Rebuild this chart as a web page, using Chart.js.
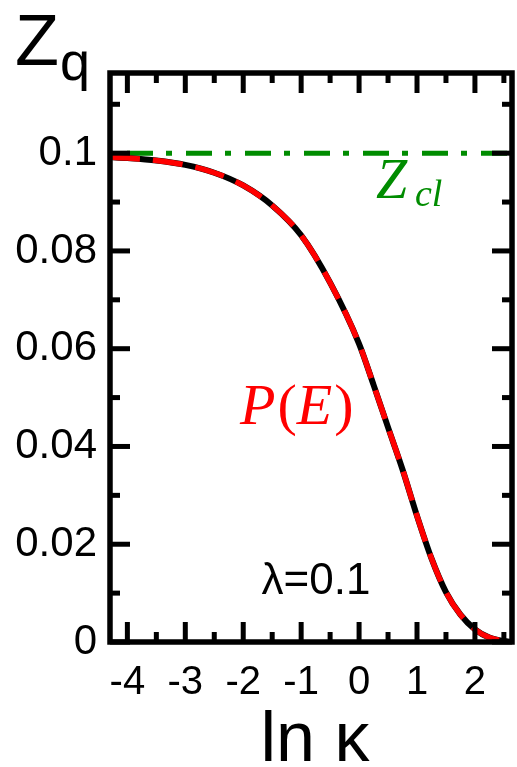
<!DOCTYPE html>
<html>
<head>
<meta charset="utf-8">
<script src="https://cdn.jsdelivr.net/npm/chart.js@4.4.1/dist/chart.umd.min.js"></script>
<style>
  body { margin: 0; background: #fff; }
  #wrap { width: 517px; height: 767px; position: relative; }
</style>
</head>
<body>
<div id="wrap"><canvas id="zqChart"></canvas></div>
<script>
// curve: Z_q against ln kappa (lambda = 0.1)
const lnKappa = [-4.3, -4, -3.5, -3, -2.5, -2, -1.5, -1, -0.5, 0, 0.25, 0.5, 0.75, 1, 1.25, 1.5, 1.75, 2, 2.25, 2.5, 2.64];
const zq      = [0.0992, 0.0990, 0.0985, 0.0976, 0.0960, 0.0934, 0.0893, 0.0832, 0.0735, 0.0610, 0.0526, 0.0439, 0.0353, 0.0258, 0.0171, 0.0102, 0.0056, 0.0026, 0.0009, 0.0002, 0.0];

// classical limit Z_cl
const zclX = [-4.3, 2.64];
const zclY = [0.1, 0.1];

// axis ticks
const xMajor = [-4, -3, -2, -1, 0, 1, 2];
const xMinor = [-3.5, -2.5, -1.5, -0.5, 0.5, 1.5, 2.5];
const yMajor = [0, 0.02, 0.04, 0.06, 0.08, 0.1];
const yMinor = [0.01, 0.03, 0.05, 0.07, 0.09, 0.11];
const yLabels = ['0', '0.02', '0.04', '0.06', '0.08', '0.1'];

const green = 'rgb(0,140,0)';
const sans = '"Liberation Sans", Arial, sans-serif';
const serif = '"Liberation Serif", "DejaVu Serif", serif';
const pts = (xs, ys) => xs.map((x, i) => ({ x: x, y: ys[i] }));

// frame + inward ticks on all four sides
const frameTicks = {
    id: 'frameTicks',
    afterDatasetsDraw(chart) {
        const { ctx, chartArea: a, scales: { x, y } } = chart;
        ctx.save();
        ctx.strokeStyle = '#000';
        ctx.lineWidth = 5;
        ctx.lineCap = 'butt';
        function tick(x1, y1, x2, y2) {
            ctx.beginPath(); ctx.moveTo(x1, y1); ctx.lineTo(x2, y2); ctx.stroke();
        }
        xMajor.forEach(v => { const p = x.getPixelForValue(v); tick(p, a.bottom, p, a.bottom - 20); tick(p, a.top, p, a.top + 20); });
        xMinor.forEach(v => { const p = x.getPixelForValue(v); tick(p, a.bottom, p, a.bottom - 10); tick(p, a.top, p, a.top + 10); });
        yMajor.forEach(v => { const p = y.getPixelForValue(v); tick(a.left, p, a.left + 20, p); tick(a.right, p, a.right - 20, p); });
        yMinor.forEach(v => { const p = y.getPixelForValue(v); tick(a.left, p, a.left + 10, p); tick(a.right, p, a.right - 10, p); });
        ctx.lineWidth = 5.5;
        ctx.strokeRect(a.left, a.top, a.right - a.left, a.bottom - a.top);
        ctx.restore();
    }
};

// write a run of [text, italic] pieces starting at x
function runText(ctx, parts, x, y, size) {
    parts.forEach(([t, it]) => {
        ctx.font = (it ? 'italic ' : '') + size + 'px ' + serif;
        ctx.fillText(t, x, y);
        x += ctx.measureText(t).width + (it ? 2 : 0);
    });
}

// titles and annotations
const labelsPlugin = {
    id: 'labelsPlugin',
    afterDraw(chart) {
        const ctx = chart.ctx;
        ctx.save();
        ctx.textBaseline = 'alphabetic';
        ctx.textAlign = 'left';
        // Z_q
        ctx.fillStyle = '#000';
        ctx.font = '72px ' + sans;
        ctx.fillText('Z', 15, 65);
        ctx.font = '54px ' + sans;
        ctx.fillText('q', 60, 80);
        // ln kappa
        ctx.font = '70px ' + sans;
        ctx.textAlign = 'center';
        ctx.fillText('ln κ', 315, 761);
        // lambda
        ctx.font = '44px ' + sans;
        ctx.fillText('λ=0.1', 316, 594);
        // P(E)
        ctx.textAlign = 'left';
        ctx.fillStyle = '#ff0000';
        runText(ctx, [['P', true], ['(', false], ['E', true], [')', false]], 240, 424, 58);
        // Z_cl
        ctx.fillStyle = green;
        ctx.font = 'italic 56px ' + serif;
        ctx.fillText('Z', 376, 198);
        ctx.font = 'italic 38px ' + serif;
        ctx.fillText('cl', 415, 206);
        ctx.restore();
    }
};

new Chart(document.getElementById('zqChart').getContext('2d'), {
    type: 'line',
    data: {
        datasets: [
            {
                label: 'Z_cl',
                data: pts(zclX, zclY),
                order: 2,
                borderColor: green,
                borderWidth: 5,
                borderDash: [26, 13, 6, 14],
                borderDashOffset: 42,
                pointRadius: 0,
                fill: false
            },
            {
                label: 'black',
                data: pts(lnKappa, zq),
                order: 1,
                borderColor: '#000',
                borderWidth: 6,
                cubicInterpolationMode: 'monotone',
                pointRadius: 0,
                fill: false
            },
            {
                label: 'P(E)',
                data: pts(lnKappa, zq),
                order: 0,
                borderColor: '#ff0000',
                borderWidth: 5.5,
                borderDash: [30, 13],
                cubicInterpolationMode: 'monotone',
                pointRadius: 0,
                fill: false
            }
        ]
    },
    options: {
        responsive: true,
        maintainAspectRatio: false,
        animation: false,
        layout: { padding: { left: 0, top: 73, right: 5, bottom: 0 } },
        plugins: { legend: { display: false }, tooltip: { enabled: false } },
        scales: {
            x: {
                type: 'linear',
                min: -4.3,
                max: 2.64,
                grid: { display: false, drawTicks: false },
                border: { display: false },
                afterBuildTicks: s => { s.ticks = xMajor.map(v => ({ value: v })); },
                afterFit: s => { s.height = 125; },
                ticks: {
                    color: '#000',
                    padding: 17,
                    maxRotation: 0,
                    autoSkip: false,
                    font: { family: sans, size: 40 },
                    callback: v => String(v)
                }
            },
            y: {
                type: 'linear',
                min: 0,
                max: 0.1164,
                grid: { display: false, drawTicks: false },
                border: { display: false },
                afterBuildTicks: s => { s.ticks = yMajor.map(v => ({ value: v })); },
                afterFit: s => { s.width = 110; },
                ticks: {
                    color: '#000',
                    padding: 13,
                    autoSkip: false,
                    font: { family: sans, size: 42 },
                    callback: (v, i) => yLabels[i]
                }
            }
        }
    },
    plugins: [frameTicks, labelsPlugin]
});
</script>
</body>
</html>
